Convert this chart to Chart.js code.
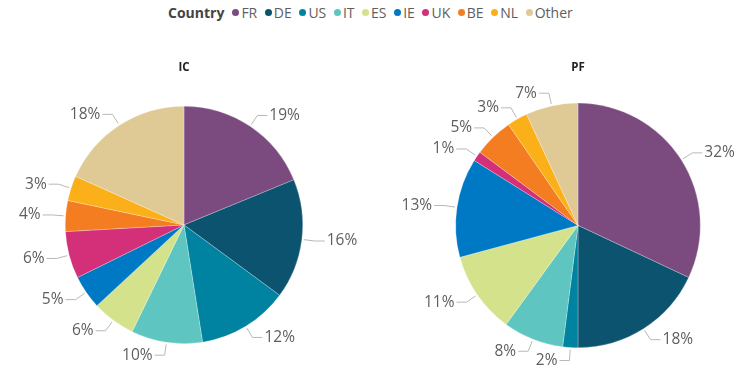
<!DOCTYPE html>
<html>
<head>
<meta charset="utf-8">
<script src="https://cdn.jsdelivr.net/npm/chart.js@4.4.1/dist/chart.umd.min.js"></script>
<style>
  body { margin: 0; width: 756px; height: 377px; background: #fff; overflow: hidden; position: relative; font-family: "Open Sans", sans-serif; }
  #legend { position: absolute; top: 3px; left: 168px; display: flex; align-items: center; font-size: 14px; color: #605e5c; white-space: nowrap; }
  #legend .head { font-weight: bold; color: #444; margin-right: 8px; }
  #legend .item { display: flex; align-items: center; margin-right: 7.6px; }
  #legend .dot { width: 7px; height: 7px; border-radius: 50%; margin-right: 2px; }
  .pie { position: absolute; top: 30px; width: 378px; height: 347px; }
</style>
</head>
<body>
<div id="legend"><span class="head">Country</span></div>
<div class="pie" style="left:0"><canvas id="ic"></canvas></div>
<div class="pie" style="left:378px"><canvas id="pf"></canvas></div>
<script>
const countries = ['FR', 'DE', 'US', 'IT', 'ES', 'IE', 'UK', 'BE', 'NL', 'Other'];
const countryColors = ['#7b4a7e', '#0b536f', '#0083a0', '#5fc5c0', '#d4e38b', '#0079c4', '#d4307a', '#f47d22', '#fbb01a', '#dfca96'];
const icShares = [18.8, 16.3, 12.4, 9.7, 5.9, 4.6, 6.4, 4.2, 3.4, 18.3];
const pfShares = [32.0, 18.0, 2.0, 8.0, 10.8, 13.1, 1.3, 5.2, 2.7, 6.9];

const legend = document.getElementById('legend');
countries.forEach((name, i) => {
  const item = document.createElement('span');
  item.className = 'item';
  item.innerHTML = `<span class="dot" style="background:${countryColors[i]}"></span>${name}`;
  legend.appendChild(item);
});

// leader-line labels outside each slice
const outerLabels = {
  id: 'outerLabels',
  afterDatasetsDraw(chart) {
    const { ctx } = chart;
    const values = chart.data.datasets[0].data;
    const total = values.reduce((a, b) => a + b, 0);
    ctx.save();
    ctx.font = '15.5px "Open Sans", sans-serif';
    ctx.textBaseline = 'middle';
    chart.getDatasetMeta(0).data.forEach((arc, i) => {
      const mid = (arc.startAngle + arc.endAngle) / 2;
      const cos = Math.cos(mid), sin = Math.sin(mid);
      const r = arc.outerRadius;
      const x0 = arc.x + cos * (r + 2), y0 = arc.y + sin * (r + 2);
      const x1 = arc.x + cos * (r + 13), y1 = arc.y + sin * (r + 13);
      const dir = cos >= 0 ? 1 : -1;
      const x2 = x1 + dir * 10;
      ctx.strokeStyle = '#b8b8b8';
      ctx.lineWidth = 1;
      ctx.beginPath();
      ctx.moveTo(x0, y0);
      ctx.lineTo(x1, y1);
      ctx.lineTo(x2, y1);
      ctx.stroke();
      ctx.fillStyle = '#605e5c';
      ctx.textAlign = dir > 0 ? 'left' : 'right';
      ctx.fillText(Math.round(values[i] / total * 100) + '%', x2 + dir * 2, y1);
    });
    ctx.restore();
  }
};

const makePie = (id, title, values, pad) => new Chart(document.getElementById(id), {
  type: 'pie',
  data: {
    labels: countries,
    datasets: [{
      data: values,
      backgroundColor: countryColors,
      borderColor: 'rgba(255,255,255,0.5)',
      borderWidth: 0.5,
    }],
  },
  options: {
    responsive: true,
    maintainAspectRatio: false,
    animation: false,
    layout: { padding: { left: pad.left, right: pad.right, top: 0, bottom: pad.bottom } },
    plugins: {
      legend: { display: false },
      tooltip: { enabled: false },
      title: {
        display: true,
        text: title,
        color: '#222',
        font: { family: '"Open Sans", sans-serif', size: 11.5, weight: 'bold' },
        padding: { top: 31, bottom: pad.titleGap },
      },
    },
  },
  plugins: [outerLabels],
});

makePie('ic', 'IC', icShares, { left: 65, right: 75, bottom: 33, titleGap: 31 });
makePie('pf', 'PF', pfShares, { left: 77, right: 55, bottom: 29, titleGap: 28 });
</script>
</body>
</html>
